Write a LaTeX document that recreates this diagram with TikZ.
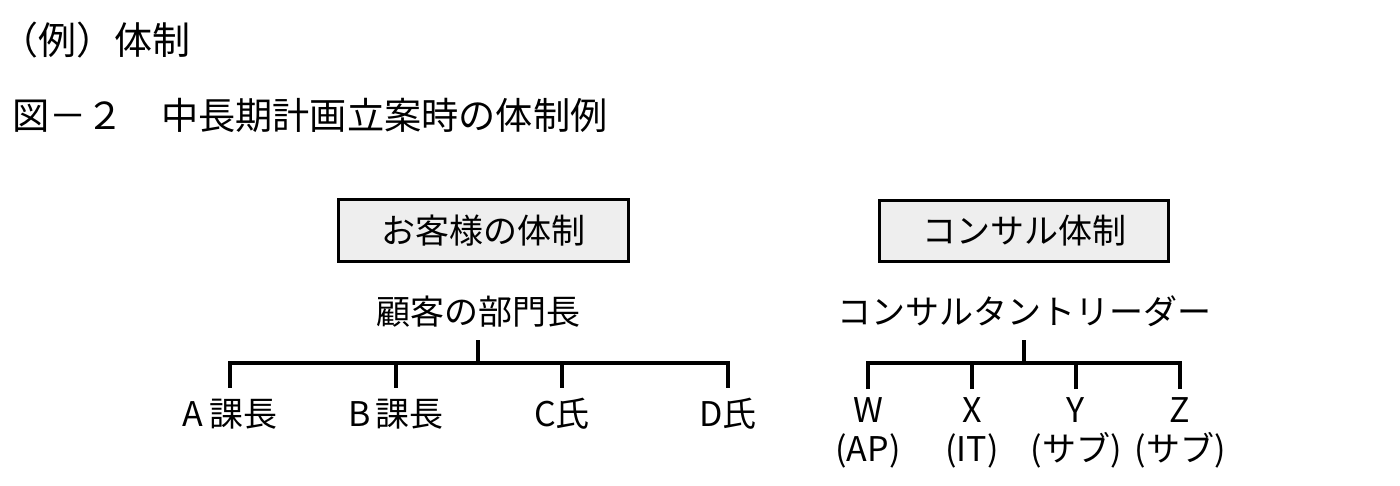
\documentclass[tikz,border=0pt]{standalone}
\usepackage{fontspec}
\newfontfamily\jp{Noto Sans CJK JP}
\newcommand\emstrut{\rule[-0.12em]{0pt}{1em}}
\begin{document}
\begin{tikzpicture}[x=1pt,y=-1pt,
  every node/.style={inner sep=0pt},
  ttl/.style={anchor=west, font=\jp\fontsize{#1}{#1}\selectfont, execute at begin node=\emstrut},
  lbl/.style={font=\jp\fontsize{34}{39}\selectfont, execute at begin node=\emstrut},
  hdbox/.style={draw, line width=3.2pt, fill=gray!13, lbl},
  ln/.style={line width=3.2pt}]
\useasboundingbox (0,0) rectangle (1400,485);
\fill[white] (0,0) rectangle (1400,485);
% titles
\node[ttl=38] (t1) at (0,40) {（例）体制};
\node[ttl=37.2] (t2) at (12,115) {図－２　中長期計画立案時の体制例};
% header boxes
\node[hdbox, minimum width=290pt, minimum height=62pt] (cbox) at (483.5,230.5) {お客様の体制};
\node[hdbox, minimum width=289pt, minimum height=61pt] (kbox) at (1024,231) {コンサル体制};
% heads
\node[lbl] (chead) at (478,312) {顧客の部門長};
\node[lbl] (khead) at (1024,312) {コンサルタントリーダー};
\coordinate (cbar) at (478,363);
\coordinate (kbar) at (1024,363);
% customer members
\node[lbl] (ca) at (230,413.5) {A\,課長};
\node[lbl] (cb) at (396,413.5) {B\,課長};
\node[lbl] (cc) at (562,413.5) {C氏};
\node[lbl] (cd) at (728,413.5) {D氏};
% consultant members
\node[lbl, align=center] (kw) at (868,433) {W\\\emstrut(AP)};
\node[lbl, align=center] (kx) at (972,433) {X\\\emstrut(IT)};
\node[lbl, align=center] (ky) at (1076,433) {Y\\\emstrut(サブ)};
\node[lbl, align=center] (kz) at (1180,433) {Z\\\emstrut(サブ)};
% connectors
\draw[ln] ([yshift=-11pt]chead.south) -- (cbar);
\foreach \n in {ca,cb,cc,cd}
  \draw[ln] ([yshift=8.5pt]\n.north) |- (cbar);
\draw[ln] ([yshift=-11pt]khead.south) -- (kbar);
\foreach \n in {kw,kx,ky,kz}
  \draw[ln] ([yshift=8.5pt]\n.north) |- (kbar);
\end{tikzpicture}
\end{document}
